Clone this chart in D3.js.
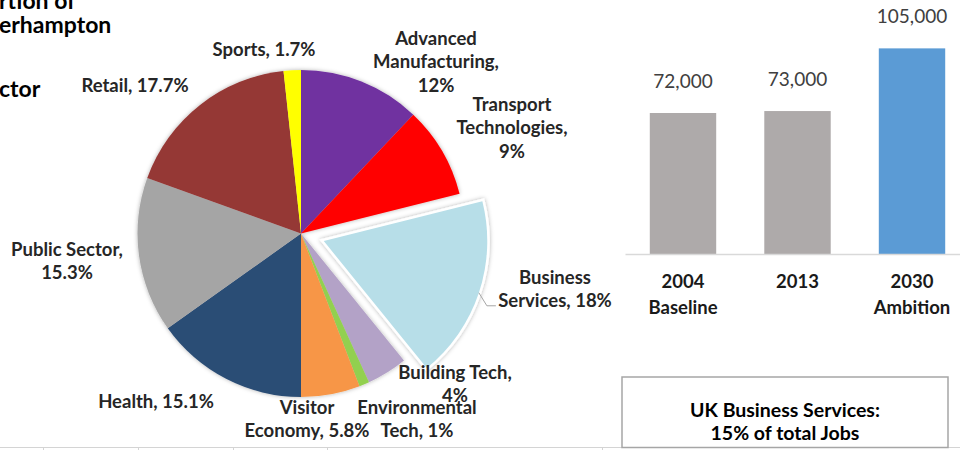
<!DOCTYPE html>
<html><head><meta charset="utf-8">
<script src="https://cdn.jsdelivr.net/npm/d3@7"></script>
<style>
body{margin:0;background:#fff;overflow:hidden;}
svg{display:block;font-family:Lato,"Open Sans",sans-serif;}
</style></head><body>
<svg id="c" width="960" height="450"></svg>
<script>
// ---------- data ----------
const pieCategories = ["Advanced Manufacturing","Transport Technologies","Business Services","Building Tech","Environmental Tech","Visitor Economy","Health","Public Sector","Retail","Sports"];
const pieValues = [12, 9, 18, 4, 1, 5.8, 15.1, 15.3, 17.7, 1.7];
const pieColors = ["#7030A0","#FF0000","#B7DEE8","#B3A2C7","#92D050","#F79646","#2C4D75","#A5A5A5","#953735","#FFFF00"];
const pieLabelLines = [["Advanced","Manufacturing,","12%"],["Transport","Technologies,","9%"],["Business","Services, 18%"],["Building Tech,","4%"],["Environmental","Tech, 1%"],["Visitor","Economy, 5.8%"],["Health, 15.1%"],["Public Sector,","15.3%"],["Retail, 17.7%"],["Sports, 1.7%"]];
const explodedCategory = "Business Services";

const barCategories = ["2004 Baseline","2013","2030 Ambition"];
const barTickLines = [["2004","Baseline"],["2013"],["2030","Ambition"]];
const barValues = [72000, 73000, 105000];
const barValueLabels = ["72,000","73,000","105,000"];
const barColors = ["#AEAAAA","#AEAAAA","#5B9BD5"];

const titleFragments = ["rtion of","erhampton","ctor"];
const calloutLines = ["UK Business Services:","15% of total Jobs"];

// ---------- layout (not data) ----------
const pieCenter = [301, 233.5], pieR = 163.5, explodeBy = 24;
// label anchor offsets from pie centre: [x of text centre, first baseline]
const labelOffsets = [[135,-189],[211,-123],[254,50],[154,145],[116,180],[6,180],[-145,174],[-234,22],[-166,-142],[-37,-178]];
const labelLineH = 23.5;
const titleBaselines = [9,33,97];
const gridCols = [43.5,138.5,233.5,327.5,602.5];

const svg = d3.select("#c");
const defs = svg.append("defs");
const f = defs.append("filter").attr("id","sh").attr("x","-20%").attr("y","-20%").attr("width","140%").attr("height","140%");
f.append("feDropShadow").attr("dx",0).attr("dy",0).attr("stdDeviation",2).attr("flood-color","#000").attr("flood-opacity",0.3);

// spreadsheet grid at bottom
svg.append("line").attr("x1",0).attr("x2",960).attr("y1",447.5).attr("y2",447.5).attr("stroke","#D4D4D4");
svg.selectAll("line.gc").data(gridCols).join("line").attr("class","gc")
  .attr("x1",d=>d).attr("x2",d=>d).attr("y1",447).attr("y2",450).attr("stroke","#D4D4D4");

// title fragments
const title = svg.append("text").attr("font-weight",700).attr("font-size",23).attr("fill","#000");
titleFragments.forEach((s,i)=>{
  title.append("tspan").attr("x",-1).attr("y",titleBaselines[i]).text(s);
});

// ---------- pie ----------
const pieData = pieCategories.map((c,i)=>({cat:c, value:pieValues[i], color:pieColors[i], lines:pieLabelLines[i], off:labelOffsets[i]}));
const pie = d3.pie().sort(null).value(d=>d.value);
const arcs = pie(pieData);
const arc = d3.arc().innerRadius(0).outerRadius(pieR);
const pg = svg.append("g").attr("transform",`translate(${pieCenter})`);
const shift = d=>{
  if(d.data.cat!==explodedCategory) return [0,0];
  const a=(d.startAngle+d.endAngle)/2;
  return [Math.sin(a)*explodeBy, -Math.cos(a)*explodeBy];
};
const slices = pg.append("g").attr("filter","url(#sh)");
slices.selectAll("path").data(arcs).join("path")
  .attr("transform",d=>`translate(${shift(d)})`)
  .attr("d",arc)
  .attr("fill",d=>d.data.color)
  .attr("stroke",d=>d.data.cat===explodedCategory?"#fff":"none")
  .attr("stroke-width",d=>d.data.cat===explodedCategory?5:0)
  .attr("stroke-linejoin","miter");
const ex = arcs.find(d=>d.data.cat===explodedCategory);
slices.append("path").attr("transform",`translate(${shift(ex)})`).attr("d",arc(ex)).attr("fill",ex.data.color);

// leader line for exploded slice
{
  const a=(ex.startAngle+ex.endAngle)/2, s=shift(ex);
  const p0=[s[0]+Math.sin(a)*pieR, s[1]-Math.cos(a)*pieR];
  const p1=[p0[0]+8,p0[1]+13], p2=[p1[0]+9,p1[1]];
  pg.append("path").attr("d",d3.line()([p0,p1,p2])).attr("fill","none").attr("stroke","#A6A6A6").attr("stroke-width",1);
}

// labels
const lbl = pg.selectAll("text.pl").data(arcs).join("text").attr("class","pl")
  .attr("text-anchor","middle").attr("font-weight",700).attr("font-size",18.5).attr("fill","#262626");
lbl.each(function(d){
  const t=d3.select(this);
  d.data.lines.forEach((ln,i)=>{
    t.append("tspan").attr("x",d.data.off[0]).attr("y",d.data.off[1]+i*labelLineH).text(ln);
  });
});

// ---------- bar chart ----------
const x = d3.scaleBand().domain(barCategories).range([625,970]).paddingInner(0.42).paddingOuter(0.2165);
const y = d3.scaleLinear().domain([0,120000]).range([254,19]);
const bars = barCategories.map((c,i)=>({cat:c,value:barValues[i],label:barValueLabels[i],color:barColors[i],tick:barTickLines[i]}));
svg.selectAll("rect.bar").data(bars).join("rect").attr("class","bar")
  .attr("x",d=>x(d.cat)).attr("width",x.bandwidth())
  .attr("y",d=>y(d.value)).attr("height",d=>y(0)-y(d.value)).attr("fill",d=>d.color);
svg.selectAll("text.vl").data(bars).join("text").attr("class","vl")
  .attr("x",d=>x(d.cat)+x.bandwidth()/2).attr("y",d=>y(d.value)-25)
  .attr("text-anchor","middle").attr("font-size",19).attr("fill","#404040").text(d=>d.label);
const ax = svg.append("g").attr("transform","translate(0,254)")
  .call(d3.axisBottom(x).tickSize(0).tickSizeOuter(0).tickFormat(()=>""));
ax.select(".domain").attr("stroke","#D9D9D9").attr("stroke-width",1.5);
ax.selectAll(".tick text").each(function(c){
  const t=d3.select(this).attr("font-family","Lato,'Open Sans',sans-serif").attr("font-weight",700).attr("font-size",18.5).attr("fill","#1a1a1a").attr("y",0).attr("dy",0);
  const b=bars.find(e=>e.cat===c);
  b.tick.forEach((ln,i)=>t.append("tspan").attr("x",0).attr("y",34+i*26).text(ln));
});

// callout box
svg.append("rect").attr("x",622).attr("y",377).attr("width",326).attr("height",70.5)
  .attr("fill","#fff").attr("stroke","#A6A6A6").attr("stroke-width",1.5);
svg.selectAll("text.co").data(calloutLines).join("text").attr("class","co")
  .attr("x",785).attr("y",(d,i)=>417+i*23).attr("text-anchor","middle")
  .attr("font-weight",700).attr("font-size",19.5).attr("fill","#000").text(d=>d);
</script>
</body></html>
